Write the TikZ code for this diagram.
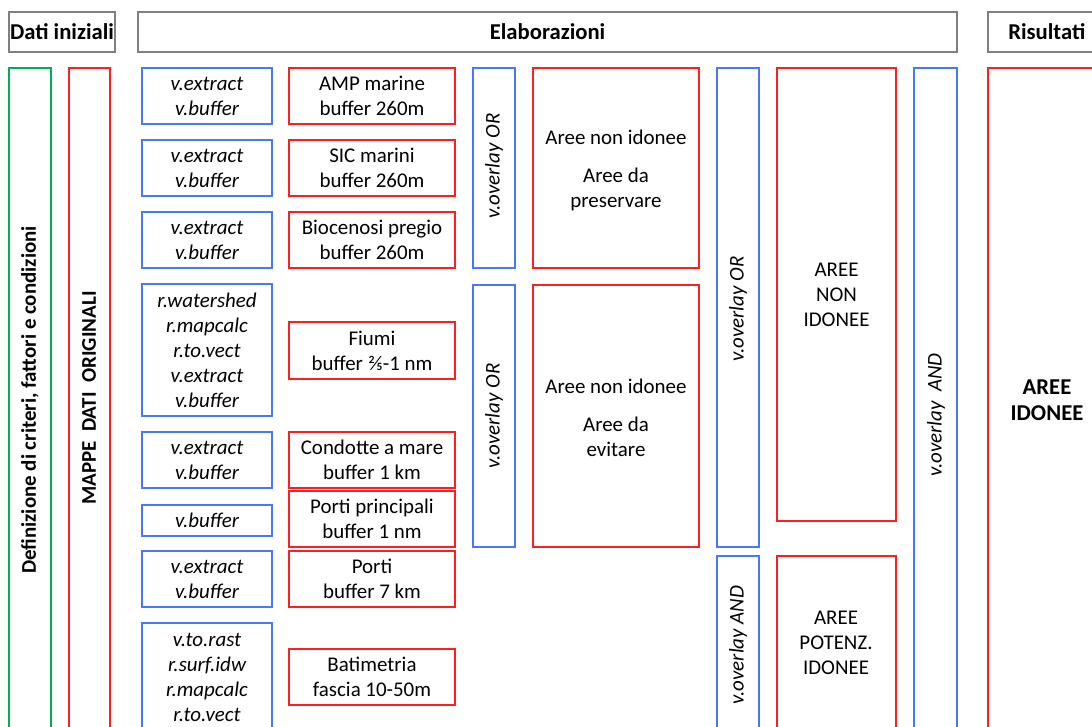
\documentclass[tikz,border=0pt]{standalone}
\usepackage{fontspec}
\setmainfont{Carlito}
\usetikzlibrary{fit}
\definecolor{myblue}{RGB}{72,118,255}
\definecolor{myred}{RGB}{255,30,30}
\definecolor{mygreen}{RGB}{0,176,80}
\definecolor{mygray}{RGB}{128,128,128}
\tikzset{
  base/.style={inner sep=0pt, line width=1.1pt},
  bb/.style={base, draw=myblue},
  rb/.style={base, draw=myred},
  gb/.style={base, draw=mygreen},
  hb/.style={base, draw=mygray, line width=1.3pt},
  txt/.style={inner sep=0pt, align=center, font=\fontsize{15.7}{18.75}\selectfont},
  itxt/.style={txt, font=\fontsize{15.7}{18.75}\selectfont\itshape},
  htxt/.style={txt, font=\fontsize{17}{19.5}\selectfont\bfseries},
  rot/.style={itxt, rotate=90},
  rotb/.style={txt, rotate=90, font=\fontsize{15.7}{18.75}\selectfont\bfseries},
}
\begin{document}
\begin{tikzpicture}[x=0.75pt,y=-0.75pt]
\useasboundingbox (0,0) rectangle (1092,727);
\begin{scope}
\clip (0,0) rectangle (1092,727);
% headers
\node[hb, fit={(9,12) (115,52)}] (h1) {};
\node[htxt] (h1t) at (h1.center) {Dati iniziali};
\node[hb, fit={(138,12) (957,52)}] (h2) {};
\node[htxt] (h2t) at (h2.center) {Elaborazioni};
\node[hb, fit={(988,12) (1110,52)}] (h3) {};
\node[htxt, anchor=west] (h3t) at (1008,32) {Risultati};
% left columns
\node[gb, fit={(9,68) (51,745)}] (g1) {};
\node[rotb] (g1t) at (30,400) {Definizione di criteri, fattori e condizioni};
\node[rb, fit={(69,68) (110,745)}] (m1) {};
\node[rotb] (m1t) at (89,398) {MAPPE\ \ DATI\ \ ORIGINALI};
% blue tool boxes
\node[bb, fit={(142,68) (272,124)}] (b1) {};
\node[itxt] at (b1.center) {v.extract\\v.buffer};
\node[bb, fit={(142,140) (272,196)}] (b2) {};
\node[itxt] at (b2.center) {v.extract\\v.buffer};
\node[bb, fit={(142,212) (272,268)}] (b3) {};
\node[itxt] at (b3.center) {v.extract\\v.buffer};
\node[bb, fit={(142,284) (272,416)}] (b4) {};
\node[itxt] at (b4.center) {r.watershed\\r.mapcalc\\r.to.vect\\v.extract\\v.buffer};
\node[bb, fit={(142,432) (272,488)}] (b5) {};
\node[itxt] at (b5.center) {v.extract\\v.buffer};
\node[bb, fit={(142,505) (272,536)}] (b6) {};
\node[itxt] at (b6.center) {v.buffer};
\node[bb, fit={(142,551) (272,607)}] (b7) {};
\node[itxt] at (b7.center) {v.extract\\v.buffer};
\node[bb, fit={(142,623) (272,731)}] (b8) {};
\node[itxt] at (b8.center) {v.to.rast\\r.surf.idw\\r.mapcalc\\r.to.vect};
% red layer boxes
\node[rb, fit={(289,68) (455,124)}] (r1) {};
\node[txt] at (r1.center) {AMP marine\\buffer 260m};
\node[rb, fit={(289,140) (455,196)}] (r2) {};
\node[txt] at (r2.center) {SIC marini\\buffer 260m};
\node[rb, fit={(289,212) (455,268)}] (r3) {};
\node[txt] at (r3.center) {Biocenosi pregio\\buffer 260m};
\node[rb, fit={(289,322) (455,379)}] (r4) {};
\node[txt] at (r4.center) {Fiumi\\buffer ⅖-1 nm};
\node[rb, fit={(289,432) (455,488)}] (r5) {};
\node[txt] at (r5.center) {Condotte a mare\\buffer 1 km};
\node[rb, fit={(289,491) (455,547)}] (r6) {};
\node[txt] at (r6.center) {Porti principali\\buffer 1 nm};
\node[rb, fit={(289,551) (455,607)}] (r7) {};
\node[txt] at (r7.center) {Porti\\buffer 7 km};
\node[rb, fit={(289,649) (455,705)}] (r8) {};
\node[txt] at (r8.center) {Batimetria\\fascia 10-50m};
% overlay OR boxes
\node[bb, fit={(473,68) (515,268)}] (o1) {};
\node[rot] (o1t) at (494,166) {v.overlay OR};
\node[bb, fit={(473,285) (515,547)}] (o2) {};
\node[rot] (o2t) at (494,416) {v.overlay OR};
\node[rb, fit={(533,68) (699,268)}] (a1) {};
\node[txt] at ([yshift=-1.5pt]a1.center) {Aree non idonee\\[9.75pt]Aree da\\preservare};
\node[rb, fit={(533,285) (699,547)}] (a2) {};
\node[txt] at ([yshift=-1.5pt]a2.center) {Aree non idonee\\[9.75pt]Aree da\\evitare};
% third column
\node[bb, fit={(717,68) (759,547)}] (o3) {};
\node[rot] (o3t) at (738,309) {v.overlay OR};
\node[rb, fit={(777,68) (896,521)}] (n1) {};
\node[txt] at (n1.center) {AREE\\NON\\IDONEE};
\node[bb, fit={(717,556) (759,745)}] (o4) {};
\node[rot] (o4t) at (738,645) {v.overlay AND};
\node[rb, fit={(777,556) (896,745)}] (p1) {};
\node[txt] (p1t) at (836,643) {AREE\\POTENZ.\\IDONEE};
% final column
\node[bb, fit={(914,68) (957,745)}] (o5) {};
\node[rot] (o5t) at (936,415) {v.overlay\ \ AND};
\node[rb, fit={(988,68) (1110,745)}] (f1) {};
\node[htxt] (f1t) at (1047,400) {AREE\\IDONEE};
\end{scope}
\end{tikzpicture}
\end{document}
